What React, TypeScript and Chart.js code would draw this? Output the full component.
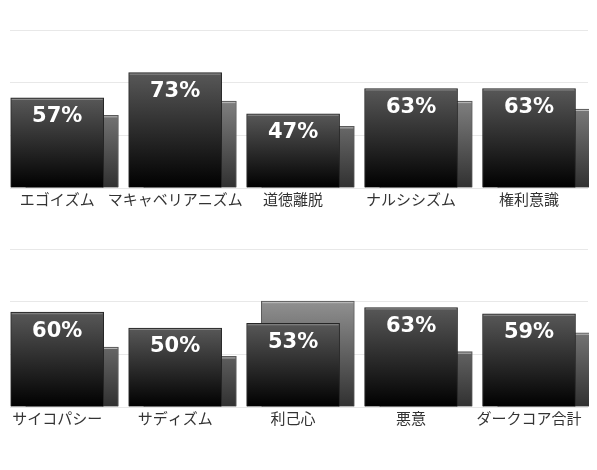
import { useEffect, useRef } from 'react';
import { Chart, registerables } from 'chart.js';

Chart.register(...registerables);

// upper chart
const topLabels = ['エゴイズム', 'マキャベリアニズム', '道徳離脱', 'ナルシシズム', '権利意識'];
const topScores = [57, 73, 47, 63, 63];
const topAverages = [46, 55, 39, 55, 50];

// lower chart
const bottomLabels = ['サイコパシー', 'サディズム', '利己心', '悪意', 'ダークコア合計'];
const bottomScores = [60, 50, 53, 63, 59];
const bottomAverages = [38, 32, 67, 35, 47];

// horizontal grid lines (0 .. 100 in thirds)
const gridValues = [0, 100 / 3, 200 / 3, 100];

const BACK_SHIFT = 0.125; // the grey bar sits a little to the right, behind the score bar

// white percentage text + a thin highlight on the top edge of every bar
const barDecorations = {
  id: 'barDecorations',
  afterDatasetDraw(chart: any, args: any) {
    const { ctx } = chart;
    const meta = args.meta;
    ctx.save();
    meta.data.forEach((bar: any) => {
      const half = bar.width / 2;
      ctx.fillStyle = args.index === 0 ? 'rgba(150,150,150,0.8)' : 'rgba(200,200,200,0.8)';
      ctx.fillRect(bar.x - half + 1, bar.y + 1, bar.width - 2, 1);
    });
    if (args.index === 0) {
      ctx.font = 'bold 21px "DejaVu Sans"';
      ctx.fillStyle = '#ffffff';
      ctx.textAlign = 'center';
      ctx.textBaseline = 'middle';
      meta.data.forEach((bar: any, i: number) => {
        const raw: any = chart.data.datasets[0].data[i];
        ctx.fillText(`${raw.y}%`, bar.x, bar.y + 19);
      });
    }
    ctx.restore();
  },
};

function frontGradient(context: any) {
  const chart = context.chart;
  const area = chart.chartArea;
  const raw = context.raw;
  if (!area || !raw) return '#222';
  const yScale = chart.scales.y;
  const top = yScale.getPixelForValue(raw.y);
  const bottom = yScale.getPixelForValue(0);
  const g = chart.ctx.createLinearGradient(0, top, 0, bottom);
  g.addColorStop(0, '#585858');
  g.addColorStop(1, '#000000');
  return g;
}

function backGradient(context: any) {
  const chart = context.chart;
  const area = chart.chartArea;
  if (!area) return '#777';
  const g = chart.ctx.createLinearGradient(0, area.top, 0, area.bottom);
  g.addColorStop(0, '#c0c0c0');
  g.addColorStop(1, '#303030');
  return g;
}

interface ScoreChartProps {
  labels: string[];
  scores: number[];
  averages: number[];
}

function ScoreChart({ labels, scores, averages }: ScoreChartProps) {
  const canvasRef = useRef<HTMLCanvasElement>(null);

  useEffect(() => {
    if (!canvasRef.current) return;
    const chart = new Chart(canvasRef.current, {
      type: 'bar',
      data: {
        datasets: [
          {
            label: 'score',
            data: scores.map((v, i) => ({ x: i, y: v })),
            order: 0,
            grouped: false,
            barThickness: 93,
            backgroundColor: frontGradient,
            borderColor: '#262626',
            borderWidth: 1,
            clip: false,
          },
          {
            label: 'average',
            data: averages.map((v, i) => ({ x: i + BACK_SHIFT, y: v })),
            order: 1,
            grouped: false,
            barThickness: 93,
            backgroundColor: backGradient,
            borderColor: '#5a5a5a',
            borderWidth: 1,
            clip: false,
          },
        ] as any,
      },
      options: {
        animation: false,
        responsive: true,
        maintainAspectRatio: false,
        layout: { padding: { top: 22, left: 2, right: 3, bottom: 17 } },
        plugins: {
          legend: { display: false },
          tooltip: { enabled: false },
        },
        scales: {
          x: {
            type: 'linear',
            offset: false,
            min: -0.4,
            max: 4.5,
            grid: { display: false, drawTicks: false, offset: false },
            border: { display: false },
            afterBuildTicks: (axis: any) => {
              axis.ticks = labels.map((_, i) => ({ value: i }));
            },
            ticks: {
              autoSkip: false,
              maxRotation: 0,
              minRotation: 0,
              padding: 2,
              color: '#333333',
              font: { size: 15, family: '"Noto Sans CJK JP", sans-serif' },
              callback: (value: any) => labels[value] ?? '',
            },
          },
          y: {
            min: 0,
            max: 100,
            afterBuildTicks: (axis: any) => {
              axis.ticks = gridValues.map((v) => ({ value: v }));
            },
            grid: { color: '#e8e8e8', lineWidth: 1, drawTicks: false },
            border: { display: false },
            ticks: { display: false },
          },
        },
      },
      plugins: [barDecorations],
    });

    return () => {
      chart.destroy();
    };
  }, [labels, scores, averages]);

  return (
    <div style={{ position: 'relative', width: 583, height: 219 }}>
      <canvas ref={canvasRef} />
    </div>
  );
}

export default function App() {
  return (
    <div>
      <ScoreChart labels={topLabels} scores={topScores} averages={topAverages} />
      <ScoreChart labels={bottomLabels} scores={bottomScores} averages={bottomAverages} />
    </div>
  );
}
